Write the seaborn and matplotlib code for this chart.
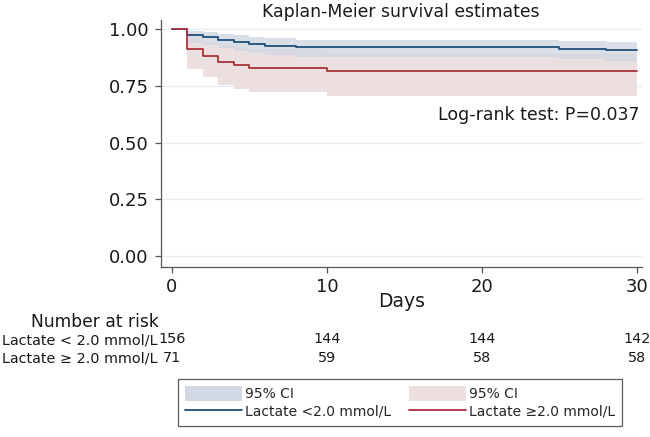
import matplotlib
matplotlib.use("Agg")
import matplotlib.pyplot as plt
import matplotlib.transforms as mtransforms
from matplotlib.patches import Patch
from matplotlib.lines import Line2D
import seaborn as sns
import pandas as pd

# ---- data ----
low_days = [0, 1, 2, 3, 4, 5, 6, 8, 25, 28, 30]
low_surv = [1.0, 0.974, 0.965, 0.952, 0.944, 0.934, 0.926, 0.919, 0.913, 0.907, 0.907]
low_ci_lo = [1.0, 0.94, 0.93, 0.915, 0.905, 0.895, 0.885, 0.875, 0.868, 0.86, 0.86]
low_ci_hi = [1.0, 0.99, 0.986, 0.978, 0.973, 0.966, 0.96, 0.952, 0.947, 0.941, 0.941]

high_days = [0, 1, 2, 3, 4, 5, 10, 30]
high_surv = [1.0, 0.912, 0.882, 0.856, 0.841, 0.827, 0.815, 0.815]
high_ci_lo = [1.0, 0.822, 0.787, 0.753, 0.736, 0.721, 0.704, 0.704]
high_ci_hi = [1.0, 0.965, 0.945, 0.93, 0.92, 0.91, 0.89, 0.89]

risk_times = [0, 10, 20, 30]
risk_low = [156, 144, 144, 142]
risk_high = [71, 59, 58, 58]

row_labels = ["Lactate < 2.0 mmol/L", "Lactate \u2265 2.0 mmol/L"]
legend_labels = ["Lactate <2.0 mmol/L", "Lactate \u22652.0 mmol/L"]

BLUE = "#1f4e7a"
RED = "#a8323a"
BLUE_BAND = "#d3d9e3"
RED_BAND = "#ecdfe0"
TXT = "#1a1a1a"

sns.set_theme(style="white")
plt.rcParams["font.family"] = ["DejaVu Sans"]

fig = plt.figure(figsize=(6.5, 4.37), dpi=100)
W, H = 650, 437
ax = fig.add_axes([161 / W, 1 - 267 / H, 480.5 / W, 247 / H])

df_low = pd.DataFrame({"t": low_days, "s": low_surv})
df_high = pd.DataFrame({"t": high_days, "s": high_surv})

ax.fill_between(high_days, high_ci_lo, high_ci_hi, step="post", color=RED_BAND, lw=0, zorder=1)
ax.fill_between(low_days, low_ci_lo, low_ci_hi, step="post", color=BLUE_BAND, lw=0, alpha=0.85, zorder=2)

sns.lineplot(data=df_low, x="t", y="s", drawstyle="steps-post", color=BLUE, lw=1.3, ax=ax, zorder=4)
sns.lineplot(data=df_high, x="t", y="s", drawstyle="steps-post", color=RED, lw=1.3, ax=ax, zorder=4)

ax.set_xlim(-0.7, 30.3)
ax.set_ylim(-0.0485, 1.04)
ax.set_xticks([0, 10, 20, 30])
ax.set_yticks([0, 0.25, 0.5, 0.75, 1.0])
ax.set_yticklabels(["0.00", "0.25", "0.50", "0.75", "1.00"])
for y in [0, 0.25, 0.5, 0.75, 1.0]:
    ax.axhline(y, color="#e3edf4", lw=0.9, zorder=0)

for side in ["top", "right"]:
    ax.spines[side].set_visible(False)
for side in ["left", "bottom"]:
    ax.spines[side].set_color("#555555")
    ax.spines[side].set_linewidth(0.9)
ax.tick_params(axis="both", direction="out", length=4, width=0.9, color="#555555",
               labelsize=13, labelcolor=TXT, bottom=True, left=True)
ax.tick_params(axis="y", pad=5)
ax.tick_params(axis="x", pad=4)
ax.set_xlabel("Days", fontsize=13.5, color=TXT, labelpad=-3)
ax.set_ylabel("")
ax.set_title("Kaplan-Meier survival estimates", fontsize=12.4, color=TXT, pad=2)

ax.text(30.2, 0.62, "Log-rank test: P=0.037", ha="right", va="center", fontsize=12.5, color=TXT)

# number at risk table
trans = mtransforms.blended_transform_factory(ax.transData, fig.transFigure)
fig.text(95 / W, 1 - 322 / H, "Number at risk", ha="center", va="center", fontsize=12.3, color=TXT)
fig.text(158 / W, 1 - 341 / H, row_labels[0], ha="right", va="center", fontsize=10.4, color=TXT)
fig.text(158 / W, 1 - 358 / H, row_labels[1], ha="right", va="center", fontsize=10.4, color=TXT)
for t, n1, n2 in zip(risk_times, risk_low, risk_high):
    ax.text(t, 1 - 339 / H, str(n1), transform=trans, ha="center", va="center", fontsize=10.4, color=TXT)
    ax.text(t, 1 - 358 / H, str(n2), transform=trans, ha="center", va="center", fontsize=10.4, color=TXT)

handles = [Patch(facecolor=BLUE_BAND, edgecolor="none"),
           Line2D([], [], color=BLUE, lw=1.3),
           Patch(facecolor=RED_BAND, edgecolor="none"),
           Line2D([], [], color=RED, lw=1.3)]
labels = ["95% CI", legend_labels[0], "95% CI", legend_labels[1]]
leg = fig.legend(handles, labels, ncol=2, loc="upper left",
                 bbox_to_anchor=(178 / W, 1 - 379 / H),
                 borderaxespad=0, fontsize=10, handlelength=4.1, handleheight=1.25,
                 handletextpad=0.2, labelspacing=0.2, borderpad=0.5, columnspacing=1.3,
                 frameon=True, fancybox=False, edgecolor="#333333")
leg.get_frame().set_linewidth(0.9)

fig.savefig("out.png", dpi=100)
